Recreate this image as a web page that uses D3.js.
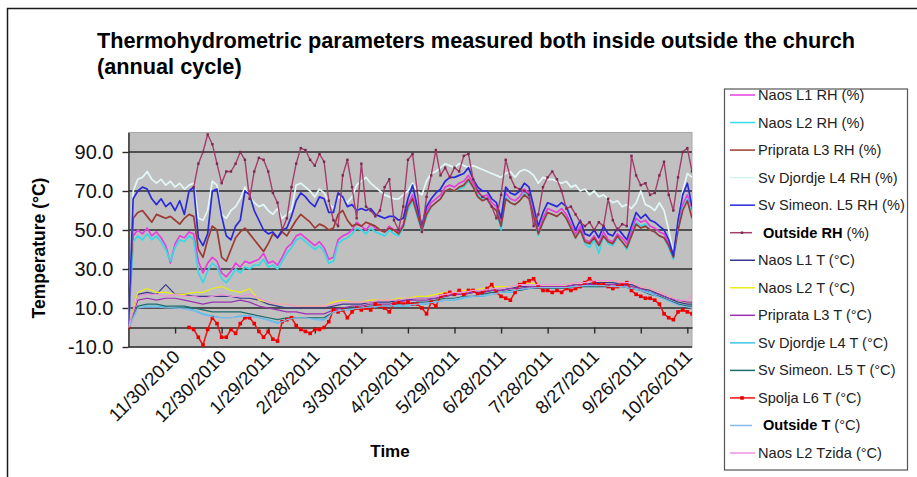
<!DOCTYPE html>
<html><head><meta charset="utf-8">
<script src="https://cdn.jsdelivr.net/npm/d3@7"></script>
<style>body{margin:0;background:#fff}svg{display:block}text{font-family:"Liberation Sans",Arial,sans-serif}</style>
</head><body><svg id="c" width="917" height="477"></svg>
<script>
// ---------- DATA ----------
const titleLines = ["Thermohydrometric parameters measured both inside outside the church", "(annual cycle)"];
const yLabel = "Temperature (°C)";
const xLabel = "Time";
const tickLabels = ["11/30/2010","12/30/2010","1/29/2011","2/28/2011","3/30/2011","4/29/2011","5/29/2011","6/28/2011","7/28/2011","8/27/2011","9/26/2011","10/26/2011"];
const yTicks = [-10, 10, 30, 50, 70, 90];
const startDate = new Date(Date.UTC(2010, 9, 31));
const endDate = new Date(Date.UTC(2011, 9, 29));
// sample days (every 3 days / every 6 days from 10/31/2010)
const fineDays = d3.range(0, 364, 3);
const coarseDays = d3.range(0, 361, 6).concat([363]);

const naosL1RH = [0,47,50,48,51,47,49,46,42,33, 43,47,46,49,48,34,28,33,36,34, 28,26,29,33,31,34,33,34,35,38, 33,34,32,36,41,43,47,48,46,44, 42,44,41,35,36,45,47,48,50,54, 52,50,53,51,50,49,52,50,49,53, 63,68,60,51,60,64,66,68,72,73, 72,74,75,78,74,69,67,68,64,62, 53,69,66,65,67,71,69,59,49,56, 61,60,59,61,58,53,48,52,45,44, 47,43,49,45,44,48,46,43,49,56, 54,55,52,51,49,48,43,36,52,63, 68,60];
const naosL2RH = [0,44,47,45,48,45,47,44,40,34, 41,45,44,47,45,28,23,29,33,31, 25,23,26,30,28,31,30,32,32,35, 31,32,30,34,38,41,45,46,44,42, 40,42,39,33,34,43,45,46,48,51, 50,48,51,49,48,47,50,48,47,51, 60,65,57,49,57,62,64,66,70,71, 70,71,72,75,72,68,66,66,62,60, 50,67,64,63,65,69,67,57,47,54, 59,58,57,59,56,51,46,50,43,41, 45,38,47,43,42,46,44,40,47,54, 52,53,50,49,47,46,41,35,50,61, 66,58];
const pripratL3RH = [0,56,59,60,57,54,58,57,56,57, 55,53,56,58,57,40,36,45,52,50, 36,34,40,46,49,51,48,45,42,39, 43,48,46,49,47,51,55,58,56,54, 51,53,52,50,51,58,60,55,52,53, 52,54,53,52,50,49,51,50,48,52, 62,66,58,50,58,62,64,66,70,71, 70,72,73,76,72,67,65,66,62,60, 52,66,64,63,65,68,66,57,48,54, 59,58,57,59,56,51,46,50,44,43, 46,42,47,44,43,47,44,41,47,53, 51,52,50,49,47,46,42,36,50,60, 65,56];
const svDjordjeL4RH = [0,70,76,77,80,76,74,76,73,75, 72,74,71,73,74,56,55,60,75,73, 58,56,60,62,66,72,67,64,62,63, 60,58,61,56,58,60,73,74,72,70, 67,71,69,64,61,67,66,64,67,73, 75,77,74,72,70,68,67,66,66,68, 70,74,70,68,75,79,80,82,84,83, 82,84,83,82,83,82,81,80,79,78, 77,79,80,77,80,81,80,78,74,77, 76,76,75,74,75,72,73,70,71,68, 70,67,68,66,64,65,62,63,61,64, 70,63,62,60,64,60,50,38,55,70, 79,77];
const svSimeonL5RH = [0,66,70,72,71,66,63,66,62,64, 60,65,58,70,72,46,42,48,70,71, 57,47,45,52,55,70,68,60,55,50, 48,49,46,50,51,57,65,69,67,64, 62,67,66,59,59,69,67,62,63,60, 61,60,61,58,57,56,57,57,55,56, 66,73,62,52,62,66,69,71,75,77, 77,78,79,82,76,72,70,70,66,64, 56,72,69,68,70,74,72,62,52,59, 64,63,62,64,62,56,50,55,48,47, 50,46,52,48,47,51,48,45,52,59, 56,58,55,54,52,50,45,37,55,68, 74,62];
const outsideRH = [null,null,null,null,null,null,null,null,null,null, null,null,null,null,72,84,90,99,94,84, 74,80,80,84,90,86,66,80,87,86, 80,69,64,50,56,72,84,92,91,86, 83,89,85,65,55,52,78,86,72,56, 84,62,60,57,60,72,76,55,50,62, 86,89,70,49,67,78,91,78,82,77, 82,80,88,89,76,70,67,66,62,56, 68,86,77,72,71,70,68,52,58,72, 77,80,76,70,61,62,58,54,52,54, 50,54,52,66,55,50,53,52,88,78, 73,74,68,69,78,85,68,60,77,90, 92,80];
const naosL1T = [0,17,18,17,22,17,17,16,16,16, 16,16,15,15,14,12,11,10,10,10, 10,10,11,12,12,12,13,13,13,14, 14,15,15,15,16,17,17,18,18,19, 19,20,21,21,21,21,21,21,22,22, 23,23,23,22,22,20,19,17,15,13, 12,12];
const naosL2T = [0,18,20,18,18,17,17,18,18,20, 21,19,18,20,14,13,12,12,11,11, 11,11,13,14,13,13,14,14,14,15, 15,16,16,17,18,18,19,19,20,21, 21,21,22,23,22,22,22,22,23,23, 24,24,24,23,23,21,20,18,16,14, 13,13];
const pripratL3T = [0,14,15,14,15,15,14,13,12,13, 13,13,14,13,11,10,9,8,8,7, 7,7,9,10,11,11,12,12,12,13, 14,14,14,15,16,17,17,18,18,19, 19,20,20,21,21,21,21,21,22,22, 22,22,22,22,21,20,18,17,15,14, 13,13];
const svDjordjeL4T = [0,10,11,11,10.5,10,10,9,7,6, 5,5,6,6,5,4,2.5,4,5,5, 4.5,4,8,9,9,10,10,11,11,11, 11,12,12,13,14,14,15,16,16,17, 18,18,19,20,20,20,20,20,21,21, 21,21,21,21,20,19,18,16,14,12, 11,10];
const svSimeonL5T = [0,11,12,12,11,11,11,10,9,8, 8,8,8,7,6,5,4,5,5,5, 5,5,8,9,10,10,11,11,11,12, 12,13,13,14,15,15,16,16,17,18, 18,19,19,20,20,20,20,20,21,21, 21,21,21,21,20,19,17,16,14,12, 11,11];
const spoljaL6T = [0,null,null,null,null,null,null,null,null,null, null,null,null,0,-1,-5,-9,-1,5,2, -5,-5,-1,-3,2,5,5,2,-2,-5, -2,-6,-7,3,4,5,1,-1,-2,-3, -1,-1,0,3,9,8,9,5,8,10, 9,10,9,12,11,10,8,12,13,12, 13,12,12,10,7,13,11,16,17,18, 17,19,17,19,19,17,18,20,22,18, 16,15,14,18,22,23,24,25,21,19, 19,18,19,18,20,19,20,21,23,25, 23,22,22,21,20,21,22,23,19,17, 16,15,15,14,12,7,5,4,8,9, 8,7];
const outsideT = [0,10,10.5,10.5,10,10,9.5,8.5,6.5,5.5, 5,5,5.5,6,5,3.5,2,4,5,5, 4,3.5,8,9,9.5,10,10.5,11,11,11.5, 11.5,12,12.5,13,14,14.5,15.5,16,16.5,17, 18,18.5,19.5,20,20.5,20.5,20.5,20.5,21,21.5, 21.5,21.5,21,21,20,19,17.5,15.5,13.5,11.5, 10.5,10];
const naosL2Tzida = [0,16,17,17,16,17,16,16,15,16, 17,16,16,17,15,13,12,12,11,11, 11,11,12,13,13,13,13,14,14,14, 15,15,15,16,17,18,18,19,19,20, 20,21,22,22,22,22,22,22,23,23, 24,24,24,23,23,21,20,18,16,14, 14,17];

const legendLabels = ["Naos L1 RH (%)","Naos L2 RH (%)","Priprata L3 RH (%)","Sv Djordje L4 RH (%)","Sv Simeon. L5 RH (%)","Outside RH (%)","Naos L1 T (°C)","Naos L2 T (°C)","Priprata L3 T (°C)","Sv Djordje L4 T (°C)","Sv Simeon. L5 T (°C)","Spolja L6 T (°C)","Outside T (°C)","Naos L2 Tzida (°C)"];
const seriesColors = ["#e640dc","#38d8e4","#9c3b33","#e2f7f7","#2a2adb","#a33d6a","#3a3a8a","#ecec1a","#9b30b0","#3ec4ea","#1b6d6d","#f01010","#86b8e8","#ee92dc"];

// ---------- BUILD ----------
const seriesValues = [naosL1RH,naosL2RH,pripratL3RH,svDjordjeL4RH,svSimeonL5RH,outsideRH,naosL1T,naosL2T,pripratL3T,svDjordjeL4T,svSimeonL5T,spoljaL6T,outsideT,naosL2Tzida];
const series = seriesValues.map((vals, k) => {
  const days = vals.length === fineDays.length ? fineDays : coarseDays;
  return {
    name: legendLabels[k],
    color: seriesColors[k],
    width: k < 6 ? (k === 5 ? 1.4 : 1.7) : (k === 11 ? 1.5 : 1.2),
    marker: k === 5 ? "small" : (k === 11 ? "square" : null),
    pts: vals.map((v, i) => ({d: d3.utcDay.offset(startDate, days[i]), v}))
  };
});

const svg = d3.select("#c");
// outer frame
svg.append("path").attr("d","M7.5,477 V8.5 H917").attr("fill","none").attr("stroke","#1a1a1a").attr("stroke-width",1.5);

// title
const t = svg.append("text").attr("font-size",21.7).attr("font-weight","bold").attr("fill","#000");
titleLines.forEach((s,i)=> t.append("tspan").attr("x",97).attr("y",48+i*26).text(s));

const x = d3.scaleUtc().domain([startDate, endDate]).range([128.5, 692]);
const y = d3.scaleLinear().domain([-10, 100]).range([347, 132.5]);

// plot area
svg.append("rect").attr("x",x.range()[0]).attr("y",y(100)).attr("width",x.range()[1]-x.range()[0]).attr("height",y(-10)-y(100))
  .attr("fill","#c0c0c0").attr("stroke","#a8a8a8").attr("stroke-width",1);

// gridlines
svg.append("g").selectAll("line").data(yTicks).join("line")
  .attr("x1",x.range()[0]).attr("x2",x.range()[1]).attr("y1",d=>y(d)).attr("y2",d=>y(d))
  .attr("stroke","#2b2b2b").attr("stroke-width",1.4);

// y axis
const yAxis = svg.append("g").attr("transform",`translate(${x.range()[0]},0)`)
  .call(d3.axisLeft(y).tickValues(yTicks).tickFormat(d=>d.toFixed(1)).tickSize(6).tickSizeOuter(0).tickPadding(9));
yAxis.select(".domain").attr("stroke","#2b2b2b").attr("stroke-width",1.4);
yAxis.selectAll(".tick line").attr("stroke","#2b2b2b").attr("stroke-width",1.4);
yAxis.selectAll(".tick text").attr("font-size",20).attr("fill","#111").attr("font-family","'Liberation Sans',Arial,sans-serif");

// x axis at 0
const parseT = d3.utcParse("%m/%d/%Y");
const tickDates = tickLabels.map(parseT);
const xAxis = svg.append("g").attr("transform",`translate(0,${y(0)})`)
  .call(d3.axisBottom(x).tickValues(tickDates).tickFormat("").tickSize(6).tickSizeOuter(0));
xAxis.select(".domain").attr("stroke","#2b2b2b").attr("stroke-width",1.4);
xAxis.selectAll(".tick line").attr("stroke","#2b2b2b").attr("stroke-width",1.4);

// rotated labels
svg.append("g").selectAll("text").data(tickDates).join("text")
  .attr("transform",(d)=>`translate(${x(d)+6},358) rotate(-45)`)
  .attr("text-anchor","end").attr("font-size",18.5).attr("fill","#111")
  .text((d,i)=>tickLabels[i]);

// axis titles
svg.append("text").attr("transform","translate(45,248) rotate(-90)").attr("text-anchor","middle")
  .attr("font-size",17.5).attr("font-weight","bold").text(yLabel);
svg.append("text").attr("x",390).attr("y",457).attr("text-anchor","middle")
  .attr("font-size",17).attr("font-weight","bold").text(xLabel);

// series
svg.append("clipPath").attr("id","pc").append("rect")
  .attr("x",x.range()[0]).attr("y",y(100)).attr("width",x.range()[1]-x.range()[0]).attr("height",y(-10)-y(100));
const plot = svg.append("g").attr("clip-path","url(#pc)");
const line = d3.line().defined(p=>p.v!=null).x(p=>x(p.d)).y(p=>y(p.v));
series.forEach(s => {
  plot.append("path").datum(s.pts).attr("d",line).attr("fill","none")
    .attr("stroke",s.color).attr("stroke-width",s.width).attr("stroke-linejoin","round");
  if (s.marker) {
    const sz = s.marker === "square" ? 3.6 : 2.4;
    plot.append("g").selectAll("rect").data(s.pts.filter(p=>p.v!=null)).join("rect")
      .attr("x",p=>x(p.d)-sz/2).attr("y",p=>y(p.v)-sz/2).attr("width",sz).attr("height",sz)
      .attr("fill", s.marker === "square" ? "#ee0000" : "#7a2850");
  }
});

// legend
const lg = svg.append("g");
svg.append("clipPath").attr("id","lc").append("rect").attr("x",724).attr("y",89).attr("width",183).attr("height",381);
lg.append("rect").attr("x",724.5).attr("y",89).attr("width",183).attr("height",381).attr("fill","#fff").attr("stroke","#555").attr("stroke-width",1.2);
const li = lg.append("g").attr("clip-path","url(#lc)");
series.forEach((s,k) => {
  const cy = 95 + k*27.54;
  const isOut = s.name.startsWith("Outside");
  li.append("line").attr("x1",730).attr("x2",isOut?752:755).attr("y1",cy).attr("y2",cy)
    .attr("stroke",s.color === "#e2f7f7" ? "#d6f3f3" : s.color).attr("stroke-width",1.5);
  if (s.marker) {
    const sz = s.marker === "square" ? 3.6 : 2.4;
    li.append("rect").attr("x",742-sz/2).attr("y",cy-sz/2).attr("width",sz).attr("height",sz)
      .attr("fill", s.marker === "square" ? "#ee0000" : "#7a2850");
  }
  const tx = li.append("text").attr("x",isOut?763:758).attr("y",cy+5).attr("font-size",14.6).attr("fill","#222");
  if (isOut) {
    const m = s.name.match(/^(Outside \S+)(.*)$/);
    tx.append("tspan").attr("font-weight","bold").attr("fill","#000").text(m[1]);
    tx.append("tspan").text(m[2]);
  } else tx.text(s.name);
});
</script>
</body></html>
